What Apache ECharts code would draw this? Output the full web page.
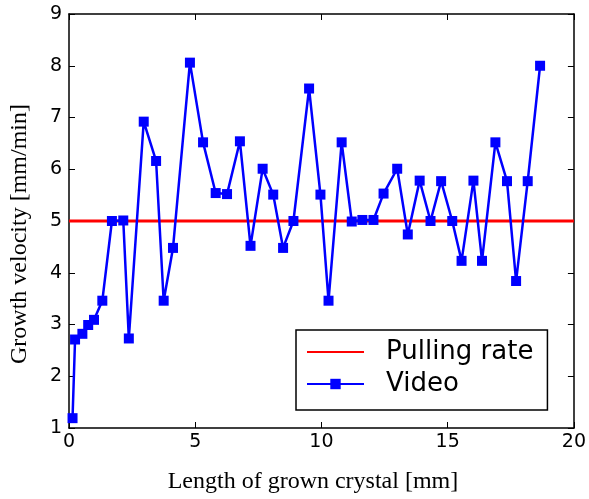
<!DOCTYPE html>
<html>
<head>
<meta charset="utf-8">
<script src="https://cdn.jsdelivr.net/npm/echarts@6/dist/echarts.min.js"></script>
<style>
  html, body { margin: 0; padding: 0; background: #fff; }
  #chart_main { width: 589px; height: 499px; }
</style>
</head>
<body>
<div id="chart_main"></div>
<script>
  // crystal length [mm] for each video measurement
  var lengthMm = [0.14, 0.24, 0.53, 0.76, 0.99, 1.32, 1.70, 2.15, 2.37, 2.96, 3.45, 3.75, 4.12, 4.79, 5.31,
    5.81, 6.26, 6.77, 7.19, 7.67, 8.09, 8.48, 8.89, 9.51, 9.96, 10.28, 10.80, 11.20, 11.62, 12.06,
    12.46, 13.00, 13.42, 13.89, 14.32, 14.74, 15.18, 15.55, 16.02, 16.36, 16.89, 17.35, 17.71, 18.17, 18.66];
  // growth velocity from video [mm/min]
  var videoVelocity = [1.19, 2.71, 2.82, 2.99, 3.09, 3.46, 5.00, 5.01, 2.73, 6.92, 6.16, 3.46, 4.48, 8.06, 6.52,
    5.54, 5.52, 6.54, 4.52, 6.01, 5.51, 4.48, 5.00, 7.56, 5.51, 3.46, 6.52, 4.99, 5.02, 5.02,
    5.53, 6.01, 4.74, 5.78, 5.00, 5.77, 5.00, 4.23, 5.78, 4.23, 6.52, 5.77, 3.84, 5.77, 8.00];
  var pullingX = [0, 20];
  var pullingRate = [5, 5];
  var seriesNames = ['Pulling rate', 'Video'];

  var tickFont = { color: '#000', fontFamily: 'DejaVu Sans', fontSize: 19 };
  var labelFont = { color: '#000', fontFamily: 'Liberation Serif', fontSize: 24 };

  function zip(a, b) {
    return a.map(function (v, i) { return [v, b[i]]; });
  }

  var myChart = echarts.init(document.getElementById('chart_main'), null, { renderer: 'canvas' });
  var option = {
    backgroundColor: '#fff',
    animation: false,
    grid: { left: 69, right: 15, top: 14, bottom: 70, containLabel: false },
    legend: {
      // no marker on the pulling rate entry, only the line
      data: [{ name: seriesNames[0], itemStyle: { opacity: 0 } }, seriesNames[1]],
      orient: 'vertical',
      left: 296,
      top: 330,
      itemWidth: 57,
      itemHeight: 13,
      itemGap: 6,
      padding: [9, 14, 13, 10],
      borderColor: '#000',
      borderWidth: 1.5,
      borderRadius: 0,
      textStyle: { color: '#000', fontFamily: 'DejaVu Sans', fontSize: 26, padding: [0, 0, 0, 17] }
    },
    xAxis: [
      {
        type: 'value',
        min: 0, max: 20, interval: 5,
        name: 'Length of grown crystal [mm]',
        nameLocation: 'middle',
        nameGap: 42,
        nameTextStyle: Object.assign({ padding: [0, 17, 0, 0] }, labelFont),
        axisLine: { show: true, onZero: false, lineStyle: { color: '#000', width: 1.5 } },
        axisTick: { show: true, inside: true, length: 6, lineStyle: { color: '#000', width: 1 } },
        axisLabel: Object.assign({ margin: 5 }, tickFont),
        splitLine: { show: false }
      },
      {
        type: 'value',
        position: 'top',
        min: 0, max: 20, interval: 5,
        axisLine: { show: true, onZero: false, lineStyle: { color: '#000', width: 1.5 } },
        axisTick: { show: true, inside: true, length: 6, lineStyle: { color: '#000', width: 1 } },
        axisLabel: { show: false },
        splitLine: { show: false }
      }
    ],
    yAxis: [
      {
        type: 'value',
        min: 1, max: 9, interval: 1,
        name: 'Growth velocity [mm/min]',
        nameLocation: 'middle',
        nameGap: 37,
        nameTextStyle: Object.assign({ padding: [0, 26, 0, 0] }, labelFont),
        axisLine: { show: true, onZero: false, lineStyle: { color: '#000', width: 1.5 } },
        axisTick: { show: true, inside: true, length: 6, lineStyle: { color: '#000', width: 1 } },
        axisLabel: Object.assign({ margin: 7 }, tickFont),
        splitLine: { show: false }
      },
      {
        type: 'value',
        position: 'right',
        min: 1, max: 9, interval: 1,
        axisLine: { show: true, onZero: false, lineStyle: { color: '#000', width: 1.5 } },
        axisTick: { show: true, inside: true, length: 6, lineStyle: { color: '#000', width: 1 } },
        axisLabel: { show: false },
        splitLine: { show: false }
      }
    ],
    series: [
      {
        name: seriesNames[0],
        type: 'line',
        data: zip(pullingX, pullingRate),
        symbol: 'none',
        color: '#ff0000',
        lineStyle: { color: '#ff0000', width: 2.8 },
        z: 2
      },
      {
        name: seriesNames[1],
        type: 'line',
        data: zip(lengthMm, videoVelocity),
        symbol: 'rect',
        symbolSize: 10,
        showAllSymbol: true,
        color: '#0000ff',
        itemStyle: { color: '#0000ff' },
        lineStyle: { color: '#0000ff', width: 2.5 },
        clip: false,
        z: 3
      }
    ]
  };
  myChart.setOption(option);
  window.addEventListener('resize', function () { myChart.resize(); });
</script>
</body>
</html>
